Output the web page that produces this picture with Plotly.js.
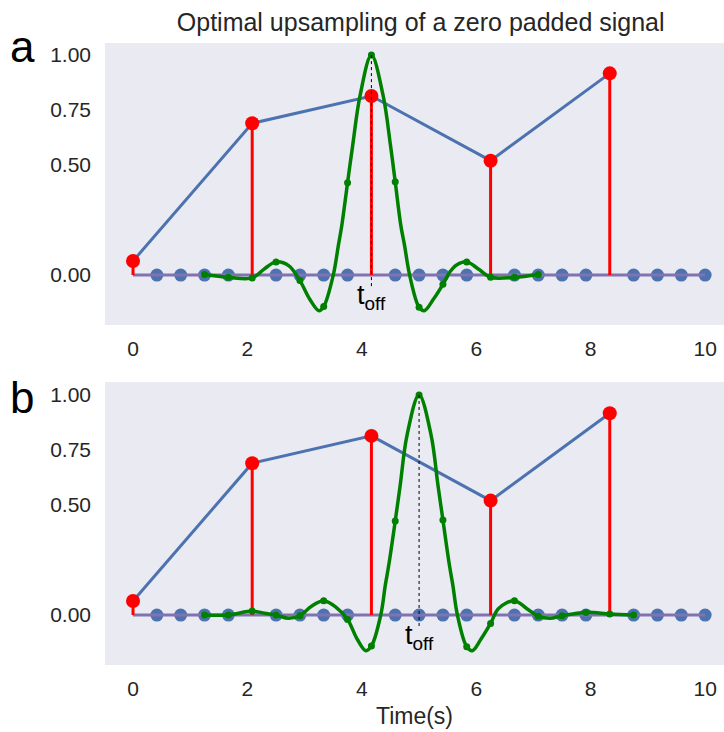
<!DOCTYPE html>
<html><head><meta charset="utf-8">
<script src="https://cdn.plot.ly/plotly-3.0.1.min.js"></script>
<style>html,body{margin:0;padding:0;background:#fff}#chart{width:724px;height:732px}</style>
</head><body><div id="chart"></div>
<script>
// Original samples (red stems) and their connecting line
const sampleX = [0, 2.083, 4.167, 6.25, 8.333];
const sampleY = [0.064, 0.69, 0.814, 0.52, 0.917];
// Zero-padded samples (blue dots)
const padX = [0.417,0.833,1.25,1.667,2.5,2.917,3.333,3.75,4.583,5.0,5.417,5.833,6.667,7.083,7.5,7.917,8.75,9.167,9.583,10.0];
const padY = [0,0,0,0,0,0,0,0,0,0,0,0,0,0,0,0,0,0,0,0];
const baseX = [0, 10];
const baseY = [0, 0];
// Panel a: interpolation kernel centred at t_off = 4.167
const tOffA = 4.167;
const greenAX = [1.25,1.667,2.083,2.28,2.5,2.72,2.917,3.09,3.25,3.333,3.5,3.59,3.65,3.75,3.84,3.97,4.167,4.37,4.5,4.583,4.68,4.745,4.835,5.0,5.09,5.25,5.417,5.54,5.65,5.833,6.05,6.25,6.667,7.083];
const greenAY = [0.003,-0.01,-0.013,0.025,0.06,0.043,-0.025,-0.11,-0.162,-0.143,0.0,0.136,0.227,0.42,0.59,0.818,1.0,0.818,0.59,0.424,0.227,0.136,0.0,-0.146,-0.162,-0.11,-0.042,0.015,0.045,0.06,0.025,-0.01,-0.01,0.003];
const dotAX = [1.25,1.667,2.083,2.5,2.917,3.333,3.75,4.167,4.583,5.0,5.417,5.833,6.25,6.667,7.083];
const dotAY = [0.003,-0.01,-0.013,0.06,-0.025,-0.143,0.42,1.0,0.424,-0.146,-0.042,0.06,-0.01,-0.01,0.003];
// Panel b: kernel centred at t_off = 5.0
const tOffB = 5.0;
const greenBX = [1.25,1.667,2.083,2.3,2.5,2.72,2.917,3.12,3.333,3.55,3.75,3.92,4.07,4.167,4.33,4.41,4.47,4.583,4.67,4.79,5.0,5.21,5.33,5.417,5.53,5.59,5.67,5.833,5.93,6.08,6.25,6.39,6.667,6.88,7.083,7.29,7.5,7.917,8.333,8.75];
const greenBY = [0.0,0.0,0.018,0.008,0.0,-0.015,-0.003,0.04,0.065,0.035,-0.02,-0.11,-0.162,-0.141,0.0,0.136,0.227,0.427,0.59,0.818,1.0,0.818,0.59,0.432,0.227,0.136,0.0,-0.144,-0.162,-0.11,-0.038,0.03,0.065,0.03,-0.005,-0.015,-0.003,0.012,0.005,0.0];
const dotBX = [1.25,1.667,2.083,2.5,2.917,3.333,3.75,4.167,4.583,5.0,5.417,5.833,6.25,6.667,7.083,7.5,7.917,8.333,8.75];
const dotBY = [0.0,0.0,0.018,0.0,-0.003,0.065,-0.02,-0.141,0.427,1.0,0.432,-0.144,-0.038,0.065,-0.005,-0.003,0.012,0.005,0.0];
const markerTop = 1.0, markerBottom = -0.055;
const xTicks = [0, 2, 4, 6, 8, 10];
const yTicks = [0, 0.5, 0.75, 1.0];
const yTickText = ['0.00', '0.50', '0.75', '1.00'];

const BLUE = '#4c72b0', PURPLE = '#8172b2', RED = '#ff0000', GREEN = '#008000';
const FONT = 'Liberation Sans, Arial, sans-serif';

function stemSegs(xs, ys) {
  const sx = [], sy = [];
  xs.forEach((x, i) => { sx.push(x, x, null); sy.push(0, ys[i], null); });
  return {sx, sy};
}

function panel(xa, ya, gx, gy, dx, dy, tOff) {
  const s = stemSegs(sampleX, sampleY);
  return [
    {x: padX, y: padY, xaxis: xa, yaxis: ya, mode: 'markers', type: 'scatter', marker: {color: BLUE, size: 13}, hoverinfo: 'skip'},
    {x: baseX, y: baseY, xaxis: xa, yaxis: ya, mode: 'lines', type: 'scatter', line: {color: PURPLE, width: 3}, hoverinfo: 'skip'},
    {x: s.sx, y: s.sy, xaxis: xa, yaxis: ya, mode: 'lines', type: 'scatter', line: {color: RED, width: 3}, hoverinfo: 'skip'},
    {x: sampleX, y: sampleY, xaxis: xa, yaxis: ya, mode: 'lines', type: 'scatter', line: {color: BLUE, width: 3}, hoverinfo: 'skip'},
    {x: sampleX, y: sampleY, xaxis: xa, yaxis: ya, mode: 'markers', type: 'scatter', marker: {color: RED, size: 14}, hoverinfo: 'skip'},
    {x: gx, y: gy, xaxis: xa, yaxis: ya, mode: 'lines', type: 'scatter', line: {color: GREEN, width: 3.5, shape: 'spline', smoothing: 1}, hoverinfo: 'skip'},
    {x: dx, y: dy, xaxis: xa, yaxis: ya, mode: 'markers', type: 'scatter', marker: {color: GREEN, size: 7}, hoverinfo: 'skip'},
    {x: [tOff, tOff], y: [markerTop, markerBottom], xaxis: xa, yaxis: ya, mode: 'lines', type: 'scatter', line: {color: '#000', width: 1, dash: 'dot'}, hoverinfo: 'skip'}
  ];
}

const data = [].concat(
  panel('x', 'y', greenAX, greenAY, dotAX, dotAY, tOffA),
  panel('x2', 'y2', greenBX, greenBY, dotBX, dotBY, tOffB)
);

const xCommon = {range: [-0.49, 10.33], tickvals: xTicks, showgrid: false, zeroline: false, showline: false, ticks: '',
  tickfont: {family: FONT, size: 21, color: '#262626'}, ticklabelstandoff: 9};
const yCommon = {tickvals: yTicks, ticktext: yTickText, showgrid: false, zeroline: false, showline: false, ticks: '',
  tickfont: {family: FONT, size: 21, color: '#262626'}, ticklabelstandoff: 13};

const layout = {
  width: 724, height: 732,
  paper_bgcolor: '#ffffff', plot_bgcolor: '#eaeaf2',
  margin: {l: 105, r: 0, t: 43, b: 67},
  showlegend: false,
  title: {text: 'Optimal upsampling of a zero padded signal', font: {family: FONT, size: 25, color: '#262626'},
    xref: 'paper', x: 0.51, xanchor: 'center', yref: 'container', y: 0.97, yanchor: 'middle'},
  xaxis: Object.assign({}, xCommon, {domain: [0, 1], anchor: 'y'}),
  yaxis: Object.assign({}, yCommon, {domain: [0.5466, 1], range: [-0.227, 1.055], anchor: 'x'}),
  xaxis2: Object.assign({}, xCommon, {domain: [0, 1], anchor: 'y2',
    title: {text: 'Time(s)', font: {family: FONT, size: 23, color: '#262626'}, standoff: 8}}),
  yaxis2: Object.assign({}, yCommon, {domain: [0, 0.455], range: [-0.227, 1.059], anchor: 'x2'}),
  annotations: [
    {xref: 'paper', yref: 'paper', x: -0.134, y: 0.995, text: 'a', showarrow: false, xanchor: 'center', yanchor: 'middle',
      font: {family: FONT, size: 44, color: '#000'}},
    {xref: 'paper', yref: 'paper', x: -0.134, y: 0.43, text: 'b', showarrow: false, xanchor: 'center', yanchor: 'middle',
      font: {family: FONT, size: 44, color: '#000'}},
    {xref: 'x', yref: 'y', x: tOffA, y: -0.1, text: 't<sub>off</sub>', showarrow: false, xanchor: 'center', yanchor: 'middle',
      font: {family: FONT, size: 27, color: '#000'}},
    {xref: 'x2', yref: 'y2', x: tOffB, y: -0.1, text: 't<sub>off</sub>', showarrow: false, xanchor: 'center', yanchor: 'middle',
      font: {family: FONT, size: 27, color: '#000'}}
  ]
};

Plotly.newPlot('chart', data, layout, {displayModeBar: false, staticPlot: true});
</script>
</body></html>
